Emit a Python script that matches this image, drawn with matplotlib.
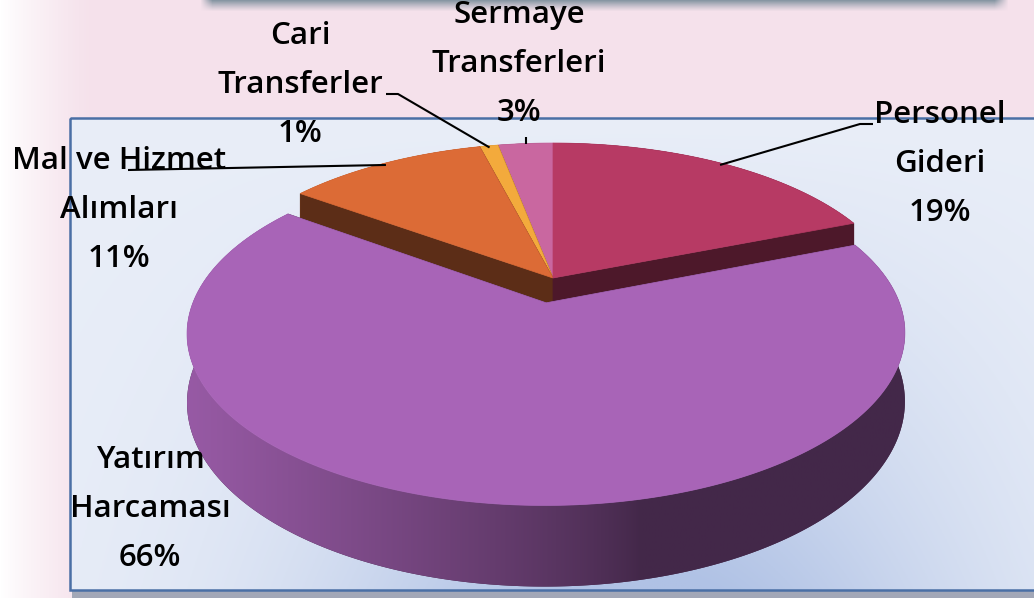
import numpy as np
import matplotlib
matplotlib.use("Agg")
import matplotlib.pyplot as plt
from matplotlib.patches import Polygon, Rectangle
from matplotlib.colors import to_rgb

# ---------------- data ----------------
categories = ["Personel\nGideri", "Yatırım\nHarcaması", "Mal ve Hizmet\nAlımları",
              "Cari\nTransferler", "Sermaye\nTransferleri"]
values = [19, 66, 11, 1, 3]
top_colors = ["#b73a64", "#a864b7", "#dc6b36", "#f3aa3c", "#c967a0"]
explode = [0.0, 0.154, 0.0, 0.0, 0.0]

# label layout (pixel positions of label block centres)
label_pos = [(940, 164), (150, 509), (119, 210), (300, 85), (519, 64)]

W, H = 1034, 598
fig = plt.figure(figsize=(W / 100, H / 100), dpi=100)
ax = fig.add_axes([0, 0, 1, 1])
ax.set_xlim(0, W)
ax.set_ylim(H, 0)
ax.axis("off")

# ---------------- background ----------------
xx, yy = np.meshgrid(np.arange(W), np.arange(H))
pink = np.array(to_rgb("#f5e1eb"))
white = np.array([1.0, 1.0, 1.0])
wl = np.clip(1 - xx / 95.0, 0, 1) ** 1.3
bg = pink[None, None, :] * (1 - wl[..., None]) + white[None, None, :] * wl[..., None]
# soft shadow of a box above the picture
sh_col = np.array(to_rgb("#8796a3"))
vy = np.clip(1 - yy / 11.0, 0, 1) ** 1.2
hx = np.clip((xx - 200) / 12.0, 0, 1) * np.clip((1008 - xx) / 14.0, 0, 1)
sa = (vy * hx)[..., None]
bg = bg * (1 - sa) + sh_col[None, None, :] * sa
ax.imshow(bg, extent=(0, W, H, 0), zorder=0, aspect="auto")

# plot frame shadow + gradient fill
fx0, fy0, fx1, fy1 = 70, 118, 1050, 590
ax.add_patch(Rectangle((fx0 + 2, fy0 + 3), fx1 - fx0, fy1 - fy0 + 5, facecolor="#8d99aa",
                       edgecolor="none", alpha=0.8, zorder=1))
gx, gy = np.meshgrid(np.linspace(fx0, fx1, 400), np.linspace(fy0, fy1, 240))
light = np.array(to_rgb("#e9eef8"))
dark = np.array(to_rgb("#b0c2e5"))
t = ((gy - fy0) / (fy1 - fy0)) ** 1.2 * np.exp(-((gx - 640) / 330.0) ** 2)
t = np.clip(t * 1.05, 0, 1)
grad = light[None, None, :] * (1 - t[..., None]) + dark[None, None, :] * t[..., None]
ax.imshow(grad, extent=(fx0, fx1, fy1, fy0), zorder=2, aspect="auto")
ax.add_patch(Rectangle((fx0, fy0), fx1 - fx0, fy1 - fy0, facecolor="none",
                       edgecolor="#4a6fa5", lw=1.8, zorder=3))

# ---------------- 3D pie ----------------
cx, cy = 553.0, 278.0
rx, ry = 344.0, 158.2
persp = 0.172
depth = 65.0


def proj(X, Z, hgt=0.0):
    d = 1 + persp * Z
    return cx + rx * X / d, cy + (-ry * Z + hgt) / d


def shade(x):
    f = np.clip((640 - x) / (640 - 188), 0, 1) ** 0.8
    return 0.40 + 0.50 * f


total = float(sum(values))
fracs = np.array(values) / total
bounds = np.concatenate([[0], np.cumsum(fracs)]) * 2 * np.pi

slices = []
for i in range(len(values)):
    a0, a1 = bounds[i], bounds[i + 1]
    mid = 0.5 * (a0 + a1)
    ox, oz = explode[i] * np.sin(mid), explode[i] * np.cos(mid)
    slices.append((i, a0, a1, mid, ox, oz))

order = sorted(slices, key=lambda s: -(s[5] + np.cos(s[3])))
Z0 = 10
for (i, a0, a1, mid, ox, oz) in order:
    base = np.array(to_rgb(top_colors[i]))
    n = max(8, int(600 * (a1 - a0) / (2 * np.pi)) + 2)
    ts = np.linspace(a0, a1, n)
    X = ox + np.sin(ts)
    Z = oz + np.cos(ts)
    tx, ty = proj(X, Z)
    bx, by = proj(X, Z, depth)
    # outer wall: polygon used as clip path for a horizontal shading gradient
    wall_pts = list(zip(tx, ty)) + list(zip(bx[::-1], by[::-1]))
    wall = Polygon(wall_pts, closed=True, facecolor=base * 0.4, edgecolor="none", zorder=Z0)
    ax.add_patch(wall)
    x0w, x1w = min(tx.min(), bx.min()) - 2, max(tx.max(), bx.max()) + 2
    y0w, y1w = min(ty.min(), by.min()) - 2, max(ty.max(), by.max()) + 2
    xs = np.linspace(x0w, x1w, 500)
    strip = np.clip(base[None, :] * shade(xs)[:, None], 0, 1)[None, :, :]
    im = ax.imshow(strip, extent=(x0w, x1w, y1w, y0w), aspect="auto", zorder=Z0 + 0.5,
                   interpolation="bilinear")
    im.set_clip_path(wall)
    Z0 += 1
    # radial cut faces, back first
    faces = []
    for a in (a0, a1):
        faces.append((oz + np.cos(a), a))
    faces.sort(key=lambda f: -f[0])
    apx_t = proj(ox, oz)
    apx_b = proj(ox, oz, depth)
    for _, a in faces:
        rt = proj(ox + np.sin(a), oz + np.cos(a))
        rb = proj(ox + np.sin(a), oz + np.cos(a), depth)
        ax.add_patch(Polygon([apx_t, rt, rb, apx_b], closed=True, facecolor=base * 0.42,
                             edgecolor=base * 0.42, lw=0.5, zorder=Z0))
        Z0 += 1
    # top surface
    pts = [apx_t] + list(zip(tx, ty))
    ax.add_patch(Polygon(pts, closed=True, facecolor=base, edgecolor=base, lw=0.5, zorder=Z0))
    Z0 += 1

# restore axis limits (imshow may change them)
ax.set_xlim(0, W)
ax.set_ylim(H, 0)

# ---------------- labels & leader lines ----------------
txt_kw = dict(fontsize=22.5, family=["Open Sans", "DejaVu Sans"], fontweight="semibold",
              ha="center", va="center", multialignment="center", linespacing=1.82,
              color="black", zorder=200)
for i, (lx, ly) in enumerate(label_pos):
    ax.text(lx, ly, f"{categories[i]}\n{values[i]}%", **txt_kw)


def anchor(i):
    _, a0, a1, mid, ox, oz = slices[i]
    return proj(ox + 0.985 * np.sin(mid), oz + 0.985 * np.cos(mid))


lk = dict(color="black", lw=1.5, zorder=150, solid_capstyle="butt")
p = anchor(0)
ax.plot([p[0], 860, 873], [p[1], 124, 124], **lk)
p = anchor(2)
ax.plot([p[0], 128], [p[1], 170], **lk)
p = anchor(3)
ax.plot([386, 398, p[0]], [94, 94, p[1]], **lk)
p = anchor(4)
ax.plot([p[0], p[0]], [137, p[1] - 1], **lk)

fig.savefig("out.png", dpi=100)
